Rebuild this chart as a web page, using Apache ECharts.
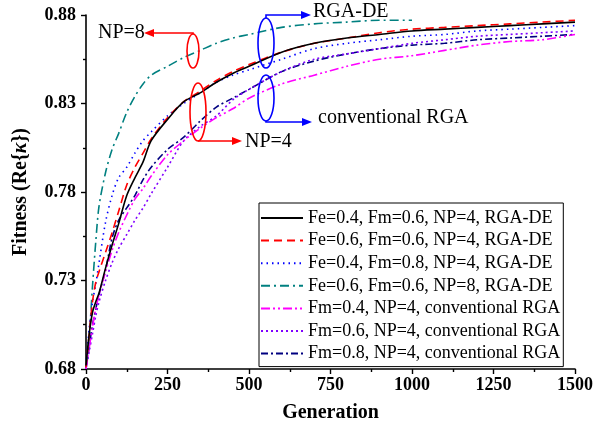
<!DOCTYPE html>
<html>
<head>
<meta charset="utf-8">
<script src="https://cdn.jsdelivr.net/npm/echarts@6/dist/echarts.min.js"></script>
<style>html,body{margin:0;padding:0;background:#fff}#c{width:594px;height:427px}</style>
</head>
<body>
<div id="c"></div>
<script>
// Generations (x values)
var gens = [0, 10, 20, 30, 40, 60, 80, 100, 125, 150, 175, 200, 250, 300, 350, 400, 450, 500, 600, 700, 800, 900, 1000, 1100, 1200, 1300, 1400, 1500];
var gensNP8 = [0, 10, 20, 30, 40, 60, 80, 100, 125, 150, 175, 200, 250, 300, 350, 400, 450, 500, 600, 700, 800, 900, 1000];

// Fitness values
var fe04fm06 = [0.682, 0.700, 0.712, 0.718, 0.723, 0.737, 0.750, 0.762, 0.778, 0.788, 0.797, 0.809, 0.821, 0.831, 0.836, 0.842, 0.847, 0.851, 0.859, 0.864, 0.867, 0.869, 0.871, 0.872, 0.873, 0.874, 0.875, 0.876];
var fe06fm06 = [0.681, 0.700, 0.718, 0.729, 0.735, 0.746, 0.757, 0.769, 0.784, 0.794, 0.802, 0.810, 0.822, 0.831, 0.837, 0.843, 0.848, 0.852, 0.859, 0.864, 0.867, 0.870, 0.872, 0.873, 0.874, 0.875, 0.876, 0.877];
var fe04fm08 = [0.682, 0.703, 0.718, 0.728, 0.740, 0.763, 0.778, 0.788, 0.794, 0.802, 0.809, 0.814, 0.823, 0.830, 0.836, 0.842, 0.846, 0.849, 0.855, 0.861, 0.864, 0.866, 0.868, 0.869, 0.871, 0.872, 0.873, 0.874];
var fe06np8 = [0.682, 0.699, 0.727, 0.752, 0.772, 0.791, 0.804, 0.813, 0.825, 0.834, 0.841, 0.846, 0.851, 0.856, 0.860, 0.864, 0.867, 0.869, 0.873, 0.875, 0.876, 0.877, 0.877];
var rgaFm04 = [0.680, 0.692, 0.704, 0.714, 0.722, 0.735, 0.747, 0.757, 0.767, 0.776, 0.782, 0.789, 0.801, 0.809, 0.816, 0.822, 0.827, 0.833, 0.841, 0.846, 0.851, 0.855, 0.857, 0.860, 0.863, 0.865, 0.866, 0.869];
var rgaFm06 = [0.680, 0.690, 0.700, 0.710, 0.718, 0.730, 0.740, 0.748, 0.756, 0.764, 0.771, 0.779, 0.794, 0.809, 0.817, 0.823, 0.832, 0.838, 0.848, 0.855, 0.858, 0.861, 0.864, 0.866, 0.868, 0.869, 0.870, 0.871];
var rgaFm08 = [0.680, 0.693, 0.705, 0.714, 0.722, 0.736, 0.754, 0.764, 0.771, 0.778, 0.787, 0.794, 0.804, 0.811, 0.820, 0.828, 0.833, 0.838, 0.848, 0.854, 0.858, 0.861, 0.863, 0.864, 0.866, 0.867, 0.868, 0.869];

var names = [
  'Fe=0.4, Fm=0.6, NP=4, RGA-DE',
  'Fe=0.6, Fm=0.6, NP=4, RGA-DE',
  'Fe=0.4, Fm=0.8, NP=4, RGA-DE',
  'Fe=0.6, Fm=0.6, NP=8, RGA-DE',
  'Fm=0.4, NP=4, conventional RGA',
  'Fm=0.6, NP=4, conventional RGA',
  'Fm=0.8, NP=4, conventional RGA'
];
var yTicks = [0.68, 0.73, 0.78, 0.83, 0.88];
var xTicks = [0, 250, 500, 750, 1000, 1250, 1500];

function pairs(xs, ys) { return xs.map(function (x, i) { return [x, ys[i]]; }); }

var FONT = 'Liberation Serif';
var styles = [
  { color: '#000000', type: 'solid', width: 1.6 },
  { color: '#ff0000', type: [8, 5], width: 1.6 },
  { color: '#0000ff', type: [1.5, 4], width: 1.6 },
  { color: '#008080', type: [9, 4, 2, 4], width: 1.6 },
  { color: '#ff00ff', type: [9, 3, 2, 3, 2, 3], width: 1.6 },
  { color: '#8000ff', type: [2, 3], width: 1.6 },
  { color: '#000080', type: [7, 3, 2, 3], width: 1.6 }
];
var datas = [
  pairs(gens, fe04fm06), pairs(gens, fe06fm06), pairs(gens, fe04fm08),
  pairs(gensNP8, fe06np8), pairs(gens, rgaFm04), pairs(gens, rgaFm06), pairs(gens, rgaFm08)
];
var series = names.map(function (n, i) {
  return {
    name: n, type: 'line', data: datas[i], symbol: 'none', smooth: 0.3,
    lineStyle: styles[i], itemStyle: { color: styles[i].color }, z: 10 - i
  };
});

var chart = echarts.init(document.getElementById('c'), null, { renderer: 'canvas' });

var red = '#ff0000', blue = '#0000ff';
function txt(x, y, s) {
  return { type: 'text', x: x, y: y, z: 100, style: { text: s, font: '20px "' + FONT + '"', fill: '#000', textVerticalAlign: 'middle' } };
}
var graphics = [
  // NP=8
  { type: 'ellipse', z: 100, shape: { cx: 193, cy: 51, rx: 6, ry: 17 }, style: { fill: 'none', stroke: red, lineWidth: 1.6 } },
  { type: 'polyline', z: 100, shape: { points: [[193, 34], [193, 33], [152, 33]] }, style: { stroke: red, lineWidth: 1.6, fill: 'none' } },
  { type: 'polygon', z: 100, shape: { points: [[144, 33], [154, 29], [154, 37]] }, style: { fill: red } },
  txt(98, 33, 'NP=8'),
  // NP=4
  { type: 'ellipse', z: 100, shape: { cx: 198, cy: 112, rx: 8, ry: 29 }, style: { fill: 'none', stroke: red, lineWidth: 1.6 } },
  { type: 'polyline', z: 100, shape: { points: [[198, 141], [234, 141]] }, style: { stroke: red, lineWidth: 1.6, fill: 'none' } },
  { type: 'polygon', z: 100, shape: { points: [[242, 141], [232, 137], [232, 145]] }, style: { fill: red } },
  txt(245, 142, 'NP=4'),
  // RGA-DE
  { type: 'ellipse', z: 100, shape: { cx: 266, cy: 43, rx: 8, ry: 25 }, style: { fill: 'none', stroke: blue, lineWidth: 1.6 } },
  { type: 'polyline', z: 100, shape: { points: [[266, 18], [266, 15], [302, 15]] }, style: { stroke: blue, lineWidth: 1.6, fill: 'none' } },
  { type: 'polygon', z: 100, shape: { points: [[311, 15], [301, 11], [301, 19]] }, style: { fill: blue } },
  txt(313, 12, 'RGA-DE'),
  // conventional RGA
  { type: 'ellipse', z: 100, shape: { cx: 266, cy: 98, rx: 8, ry: 23 }, style: { fill: 'none', stroke: blue, lineWidth: 1.6 } },
  { type: 'polyline', z: 100, shape: { points: [[266, 121], [266, 122], [303, 122]] }, style: { stroke: blue, lineWidth: 1.6, fill: 'none' } },
  { type: 'polygon', z: 100, shape: { points: [[312, 122], [302, 118], [302, 126]] }, style: { fill: blue } },
  txt(318, 118, 'conventional RGA')
];

var axisLabelStyle = { color: '#000', fontFamily: FONT, fontWeight: 'bold', fontSize: 18 };

chart.setOption({
  animation: false,
  backgroundColor: '#fff',
  grid: { left: 86, right: 19, top: 15, bottom: 58, containLabel: false, outerBoundsMode: 'none' },
  legend: {
    orient: 'vertical', left: 259, top: 203,
    data: names,
    itemWidth: 42, itemHeight: 14, itemGap: 4.6,
    padding: [6, 3, 4, 1],
    borderColor: '#000', borderWidth: 1, backgroundColor: '#fff',
    itemStyle: { opacity: 0, borderWidth: 0 },
    textStyle: { color: '#000', fontFamily: FONT, fontSize: 18, lineHeight: 18 },
    z: 50
  },
  xAxis: {
    type: 'value', min: 0, max: 1500, interval: 250,
    name: 'Generation', nameLocation: 'middle', nameGap: 34,
    nameTextStyle: { color: '#000', fontFamily: FONT, fontWeight: 'bold', fontSize: 20 },
    axisLine: { show: true, onZero: false, lineStyle: { color: '#000', width: 1.6 } },
    axisTick: { show: true, length: 5, lineStyle: { color: '#000', width: 1.4 } },
    minorTick: { show: true, splitNumber: 2, length: 3, lineStyle: { color: '#000', width: 1.4 } },
    axisLabel: Object.assign({ margin: 7, formatter: function (v) { return xTicks.indexOf(v) >= 0 ? String(v) : ''; } }, axisLabelStyle),
    splitLine: { show: false }
  },
  yAxis: {
    type: 'value', min: 0.68, max: 0.88, interval: 0.05,
    name: 'Fitness (Re{{k|κ}})', nameLocation: 'middle', nameGap: 55,
    nameTextStyle: { color: '#000', fontFamily: FONT, fontWeight: 'bold', fontSize: 20,
      rich: { k: { fontFamily: FONT, fontWeight: 'bold', fontStyle: 'italic', fontSize: 20, color: '#000' } } },
    axisLine: { show: true, onZero: false, lineStyle: { color: '#000', width: 1.6 } },
    axisTick: { show: true, length: 5, lineStyle: { color: '#000', width: 1.4 } },
    minorTick: { show: true, splitNumber: 2, length: 3, lineStyle: { color: '#000', width: 1.4 } },
    axisLabel: Object.assign({ margin: 10, formatter: function (v) {
      for (var i = 0; i < yTicks.length; i++) { if (Math.abs(yTicks[i] - v) < 1e-6) return yTicks[i].toFixed(2); }
      return '';
    } }, axisLabelStyle),
    splitLine: { show: false }
  },
  series: series,
  graphic: graphics
});
</script>
</body>
</html>
